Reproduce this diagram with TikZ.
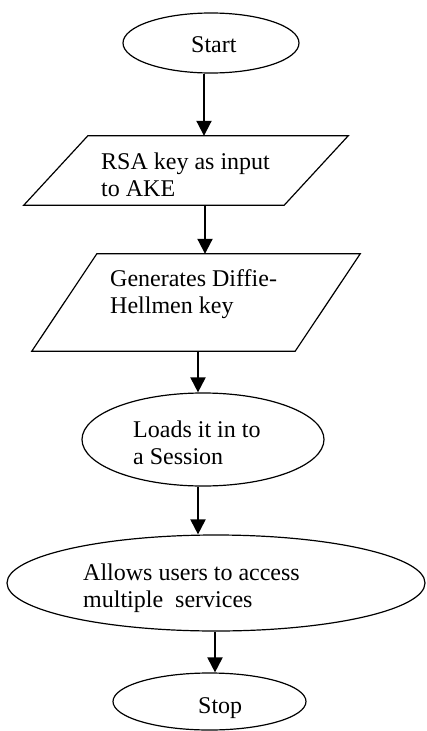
\documentclass[tikz,border=0pt]{standalone}
\usepackage{fontspec}
\setmainfont{Liberation Serif}
\usetikzlibrary{arrows.meta,shapes.geometric,calc}
\begin{document}
\begin{tikzpicture}[x=1pt,y=-1pt,
  term/.style={draw,ellipse,line width=1.2pt,inner sep=0pt},
  para/.style={inner sep=0pt},
  txt/.style={anchor=base west,inner sep=0pt,align=left,font=\fontsize{24}{27}\selectfont},
  arr/.style={line width=2pt,-{Triangle[width=15pt,length=15pt]}}]
\useasboundingbox (0,0) rectangle (426,731);
% shapes
\node[term,minimum width=176pt,minimum height=60pt] (start) at (211,43) {};
\node[para,minimum width=324pt,minimum height=69pt] (p1) at (186,170.5) {};
\draw[line width=1.2pt] ($(p1.north west)+(64,0)$) -- (p1.north east) -- ($(p1.south east)+(-64,0)$) -- (p1.south west) -- cycle;
\node[para,minimum width=328pt,minimum height=97pt] (p2) at (196,302.5) {};
\draw[line width=1.2pt] ($(p2.north west)+(65,0)$) -- (p2.north east) -- ($(p2.south east)+(-65,0)$) -- (p2.south west) -- cycle;
\node[term,minimum width=242pt,minimum height=93pt] (load) at (203,439.5) {};
\node[term,minimum width=418pt,minimum height=96pt] (allow) at (216,583) {};
\node[term,minimum width=193pt,minimum height=57pt] (stop) at (209.5,701.5) {};
% texts (base anchor = baseline of the last line)
\node[txt] (tstart) at (191,52) {Start};
\node[txt] (t1) at (101,196) {RSA key as input\\to AKE};
\node[txt] (t2) at (110,313) {Generates Diffie-\\Hellmen key};
\node[txt] (t3) at (133,464) {Loads it in to\\a Session};
\node[txt] (t4) at (83,607) {Allows users to access\\multiple\ \ services};
\node[txt] (tstop) at (198,713) {Stop};
% connectors
\draw[arr] ([xshift=-7pt]start.south) -- ([xshift=-7pt]start.south |- p1.north);
\draw[arr] ([xshift=19pt]p1.south) -- ([xshift=19pt]p1.south |- p2.north);
\draw[arr] ([xshift=2pt]p2.south) -- ([xshift=2pt]p2.south |- load.north);
\draw[arr] ([xshift=-5pt]load.south) -- ([xshift=-5pt]load.south |- allow.north);
\draw[arr] ([xshift=-1pt]allow.south) -- ([xshift=-1pt]allow.south |- stop.north);
\end{tikzpicture}
\end{document}
